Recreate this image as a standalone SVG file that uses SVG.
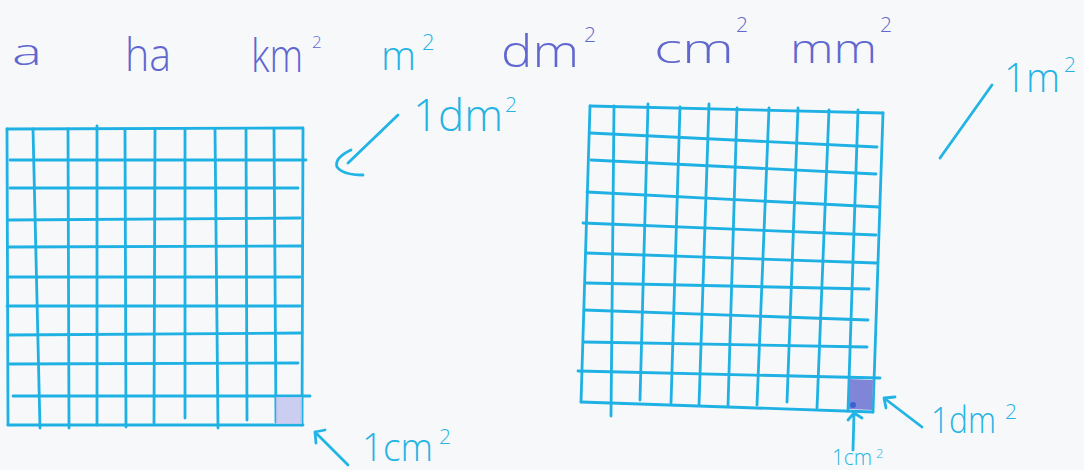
<svg xmlns="http://www.w3.org/2000/svg" width="1084" height="470" viewBox="0 0 1084 470">
<style>
.g{stroke:#1fb1e3;stroke-width:2.8;stroke-linecap:round;fill:none}
.a{stroke:#22b4e4;stroke-width:2.8;stroke-linecap:round;stroke-linejoin:round;fill:none}
.p{fill:#6067cf;font-family:"Open Sans","Liberation Sans",Arial,sans-serif;font-weight:300}
.c{fill:#25b3e3;font-family:"Open Sans","Liberation Sans",Arial,sans-serif;font-weight:300}
</style>
<rect width="1084" height="470" fill="#f7f8fa"/>

<g id="units">
<text class="p" x="12" y="65" font-size="36" textLength="30" lengthAdjust="spacingAndGlyphs">a</text>
<text class="p" x="125" y="71" font-size="46" textLength="46" lengthAdjust="spacingAndGlyphs">ha</text>
<text class="p" x="251" y="72" font-size="46" textLength="52" lengthAdjust="spacingAndGlyphs">km</text>
<text class="p" x="312" y="48" font-size="17">2</text>
<text class="c" x="381" y="70" font-size="40" textLength="35" lengthAdjust="spacingAndGlyphs">m</text>
<text class="c" x="422" y="50" font-size="22">2</text>
<text class="p" x="501" y="67" font-size="44" textLength="78" lengthAdjust="spacingAndGlyphs">dm</text>
<text class="p" x="584" y="42" font-size="21">2</text>
<text class="p" x="654" y="63" font-size="40" textLength="80" lengthAdjust="spacingAndGlyphs">cm</text>
<text class="p" x="736" y="32" font-size="21">2</text>
<text class="p" x="790" y="63" font-size="40" textLength="87" lengthAdjust="spacingAndGlyphs">mm</text>
<text class="p" x="880" y="32" font-size="21">2</text>
</g>

<g id="grid-dm2">
<path class="g" d="M7,129 L8,425 M33,129 L40,428 M68,129 L69,428 M97,126 L97,425 M125,129 L126,427 M155,129 L154,423 M185,129 L185,418 M215,129 L218,428 M246,129 L247,420 M274,129 L276,422 M303,129 L302,425"/>
<path class="g" d="M7,129 L303,128 M10,160 L306,160 M10,188 L298,188 M8,220 L300,218 M8,247 L302,246 M8,277 L300,277 M7,306 L300,306 M8,335 L302,333 M10,364 L298,363 M13,396 L310,396 M8,425 L303,425"/>
<rect x="276" y="397" width="26" height="27" fill="#c3c6ee" opacity="0.85"/>
</g>

<g id="grid-m2">
<path class="g" d="M590,106 L581,402 M614,106 L611,416 M648,104 L640,400 M680,107 L671,403 M709,104 L699,405 M737,108 L728,406 M769,108 L757,405 M798,108 L787,402 M829,110 L817,408 M858,110 L848,411 M883,113 L873,412"/>
<path class="g" d="M590,106 L883,113 M590,133 L877,147 M591,160 L876,174 M587,192 L879,207 M583,223 L876,235 M586,253 L877,263 M586,283 L869,289 M584,310 L868,320 M584,342 L867,347 M578,371 L880,378 M581,402 L873,412"/>
<polygon points="849,379 873,380 872,410 849,409" fill="#7f86d8"/>
<circle cx="853" cy="405" r="3" fill="#3a62d0"/>
</g>

<g id="label-1dm2-top">
<text class="c" x="413" y="131" font-size="44" textLength="90" lengthAdjust="spacingAndGlyphs">1dm</text>
<text class="c" x="505" y="112" font-size="21">2</text>
</g>

<g id="label-1m2">
<text class="c" x="1004" y="92" font-size="40" textLength="56" lengthAdjust="spacingAndGlyphs">1m</text>
<text class="c" x="1064" y="72" font-size="21">2</text>
</g>

<g id="label-1cm2-left">
<text class="c" x="362" y="461" font-size="38" textLength="71" lengthAdjust="spacingAndGlyphs">1cm</text>
<text class="c" x="439" y="444" font-size="21">2</text>
</g>

<g id="label-1dm2-right">
<text class="c" x="931" y="433" font-size="36" textLength="65" lengthAdjust="spacingAndGlyphs">1dm</text>
<text class="c" x="1005" y="419" font-size="21">2</text>
</g>

<g id="label-1cm2-small">
<text class="c" x="832" y="465" font-size="22" textLength="40" lengthAdjust="spacingAndGlyphs">1cm</text>
<text class="c" x="876" y="458" font-size="13">2</text>
</g>

<g id="connectors">
<path class="a" d="M398,115 L348,163"/>
<path class="a" d="M351,150 Q334,158 337,167 Q343,175 363,175"/>
<path class="a" d="M992,85 L940,158"/>
<path class="a" d="M348,465 L315,432 M315,432 L316,443 M315,432 L325,430"/>
<path class="a" d="M922,427 L884,398 M884,398 L886,408 M884,398 L895,397"/>
<path class="a" d="M853,450 L854,413 M854,413 L848,420 M854,413 L862,418"/>
</g>
</svg>
